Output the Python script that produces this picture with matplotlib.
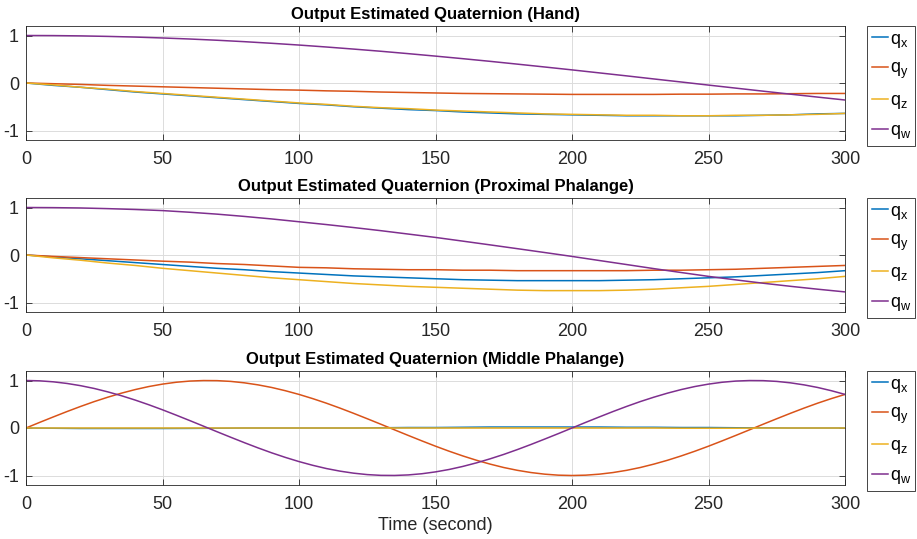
import matplotlib
matplotlib.use('Agg')
import matplotlib.pyplot as plt
import numpy as np

plt.rcParams['font.family'] = ['Liberation Sans', 'DejaVu Sans']
plt.rcParams['axes.unicode_minus'] = False
plt.rcParams['mathtext.fontset'] = 'custom'
plt.rcParams['mathtext.rm'] = 'Liberation Sans'

# time axis (seconds), sampled every 10 s for slow curves, 5 s for the oscillating ones
t = np.arange(0, 301, 10)
t_mid = np.arange(0, 301, 5)

# Hand
hand_qx = [0, -0.05, -0.09, -0.14, -0.19, -0.23, -0.27, -0.31, -0.35, -0.39, -0.43,
           -0.46, -0.50, -0.53, -0.56, -0.58, -0.61, -0.63, -0.65, -0.66, -0.67,
           -0.68, -0.69, -0.69, -0.69, -0.69, -0.69, -0.68, -0.67, -0.65, -0.64]
hand_qy = [0, -0.015, -0.03, -0.05, -0.065, -0.08, -0.095, -0.11, -0.125, -0.14, -0.15,
           -0.165, -0.175, -0.19, -0.20, -0.21, -0.22, -0.225, -0.23, -0.235, -0.24,
           -0.24, -0.24, -0.24, -0.235, -0.235, -0.23, -0.23, -0.225, -0.22, -0.22]
hand_qz = [0, -0.04, -0.09, -0.13, -0.18, -0.22, -0.26, -0.30, -0.34, -0.38, -0.42,
           -0.45, -0.49, -0.52, -0.54, -0.57, -0.59, -0.61, -0.63, -0.65, -0.66,
           -0.67, -0.68, -0.68, -0.69, -0.69, -0.68, -0.68, -0.67, -0.66, -0.64]
hand_qw = [1, 0.998, 0.992, 0.981, 0.967, 0.948, 0.926, 0.900, 0.870, 0.836, 0.799,
           0.758, 0.714, 0.668, 0.618, 0.566, 0.512, 0.456, 0.397, 0.337, 0.276,
           0.213, 0.150, 0.085, 0.021, -0.044, -0.108, -0.172, -0.235, -0.297, -0.358]

# Proximal phalange
prox_qx = [0, -0.04, -0.08, -0.12, -0.16, -0.20, -0.24, -0.28, -0.31, -0.35, -0.38,
           -0.41, -0.44, -0.46, -0.48, -0.50, -0.52, -0.53, -0.54, -0.54, -0.54,
           -0.54, -0.53, -0.52, -0.50, -0.48, -0.46, -0.43, -0.40, -0.37, -0.33]
prox_qy = [0, -0.03, -0.055, -0.08, -0.105, -0.13, -0.15, -0.18, -0.20, -0.23, -0.26,
           -0.27, -0.29, -0.30, -0.31, -0.31, -0.32, -0.32, -0.33, -0.33, -0.33,
           -0.33, -0.33, -0.32, -0.32, -0.31, -0.30, -0.28, -0.26, -0.24, -0.22]
prox_qz = [0, -0.06, -0.11, -0.17, -0.22, -0.28, -0.33, -0.38, -0.43, -0.48, -0.52,
           -0.56, -0.60, -0.63, -0.66, -0.68, -0.70, -0.72, -0.74, -0.75, -0.75,
           -0.75, -0.74, -0.72, -0.69, -0.66, -0.62, -0.58, -0.54, -0.50, -0.45]
prox_qw = [1, 0.997, 0.990, 0.976, 0.958, 0.935, 0.900, 0.860, 0.812, 0.759, 0.700,
           0.641, 0.578, 0.512, 0.441, 0.370, 0.292, 0.213, 0.133, 0.052, -0.030,
           -0.116, -0.201, -0.287, -0.369, -0.450, -0.524, -0.594, -0.659, -0.720, -0.777]

# Middle phalange (qx, qz on t; qy, qw on t_mid)
mid_qx = [0, -0.005, -0.01, -0.01, -0.01, -0.01, -0.008, -0.005, 0, 0, 0,
          0, 0, 0.005, 0.01, 0.01, 0.015, 0.02, 0.02, 0.02, 0.02,
          0.02, 0.015, 0.015, 0.01, 0.01, 0.005, 0.005, 0, 0, 0]
mid_qy = [0, 0.118, 0.233, 0.346, 0.454, 0.556, 0.649, 0.734, 0.809, 0.873, 0.924,
          0.963, 0.988, 0.999, 0.997, 0.981, 0.951, 0.908, 0.853, 0.785, 0.707,
          0.619, 0.523, 0.419, 0.309, 0.195, 0.079, -0.039, -0.156, -0.271, -0.383,
          -0.489, -0.588, -0.679, -0.760, -0.832, -0.891, -0.938, -0.972, -0.993, -1.0,
          -0.993, -0.972, -0.938, -0.891, -0.832, -0.760, -0.679, -0.588, -0.489, -0.383,
          -0.271, -0.156, -0.039, 0.079, 0.195, 0.309, 0.419, 0.523, 0.619, 0.707]
mid_qz = [0, 0, 0, 0, 0, 0, 0, 0, 0, 0, 0,
          0, 0, 0, 0, 0, 0, 0, 0, 0, 0,
          0, 0, 0, -0.005, -0.005, -0.005, 0, 0, 0, 0]
mid_qw = [1, 0.993, 0.972, 0.938, 0.891, 0.832, 0.760, 0.679, 0.588, 0.489, 0.383,
          0.271, 0.156, 0.039, -0.079, -0.195, -0.309, -0.419, -0.523, -0.619, -0.707,
          -0.785, -0.853, -0.908, -0.951, -0.981, -0.997, -0.999, -0.988, -0.963, -0.924,
          -0.873, -0.809, -0.734, -0.649, -0.556, -0.454, -0.346, -0.233, -0.118, 0,
          0.118, 0.233, 0.346, 0.454, 0.556, 0.649, 0.734, 0.809, 0.873, 0.924,
          0.963, 0.988, 0.999, 0.997, 0.981, 0.951, 0.908, 0.853, 0.785, 0.707]

titles = ['Output Estimated Quaternion (Hand)',
          'Output Estimated Quaternion (Proximal Phalange)',
          'Output Estimated Quaternion (Middle Phalange)']
series = [[(t, hand_qx), (t, hand_qy), (t, hand_qz), (t, hand_qw)],
          [(t, prox_qx), (t, prox_qy), (t, prox_qz), (t, prox_qw)],
          [(t, mid_qx), (t_mid, mid_qy), (t, mid_qz), (t_mid, mid_qw)]]
labels = ['q$_\\mathregular{x}$', 'q$_\\mathregular{y}$',
          'q$_\\mathregular{z}$', 'q$_\\mathregular{w}$']
colors = ['#0072BD', '#D95319', '#EDB120', '#7E2F8E']

W, H = 917, 539
fig = plt.figure(figsize=(W / 100, H / 100), dpi=100)

ax_tops = [26, 198, 371]
ax_h = 114
left, right = 26, 845
leg_left = 867

for i in range(3):
    top = ax_tops[i]
    ax = fig.add_axes([left / W, 1 - (top + ax_h) / H, (right - left) / W, ax_h / H])
    for (x, vals), lab, c in zip(series[i], labels, colors):
        ax.plot(x, vals, color=c, lw=1.1, label=lab)
    ax.set_xlim(0, 300)
    ax.set_ylim(-1.2, 1.2)
    ax.set_xticks([0, 50, 100, 150, 200, 250, 300])
    ax.set_yticks([-1, 0, 1])
    ax.grid(True, color='#dcdcdc', lw=0.7)
    ax.set_axisbelow(True)
    ax.tick_params(direction='in', top=True, right=True, labelsize=13,
                   color='#262626', labelcolor='#262626', length=4, width=0.6, pad=5)
    ax.tick_params(axis='x', pad=8)
    for sp in ax.spines.values():
        sp.set_color('#262626')
        sp.set_linewidth(0.6)
    ax.set_title(titles[i], fontsize=12, fontweight='bold', pad=5)
    leg = ax.legend(loc='upper left', bbox_to_anchor=(leg_left / W, 1 - top / H),
                    bbox_transform=fig.transFigure, fontsize=13, handlelength=0.9,
                    handletextpad=0.1, labelspacing=0.6, borderpad=0.25,
                    borderaxespad=0, fancybox=False, framealpha=1)
    leg.get_frame().set_edgecolor('#262626')
    leg.get_frame().set_linewidth(0.6)
    if i == 2:
        ax.set_xlabel('Time (second)', fontsize=13, labelpad=3, color='#262626')

fig.savefig('out.png', dpi=100)
